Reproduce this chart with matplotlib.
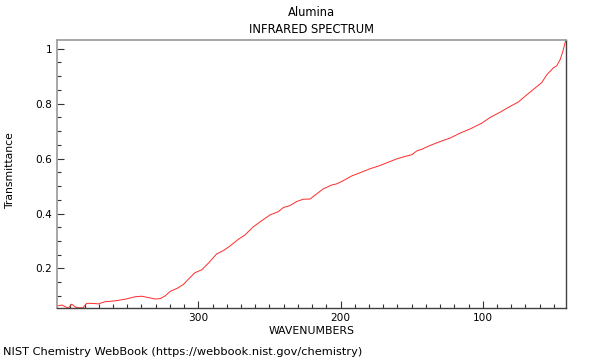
import matplotlib
matplotlib.use('Agg')
import matplotlib.pyplot as plt
from matplotlib.ticker import MultipleLocator

# spectrum (wavenumber, transmittance)
wavenumbers = [399.4, 396.1, 393.7, 391.4, 389.0, 386.7, 384.6, 381.1, 378.5, 375.0,
               370.3, 365.6, 358.6, 351.5, 344.5, 339.8, 335.2, 330.5, 326.9, 323.4,
               319.9, 314.1, 310.5, 307.0, 302.3, 297.6, 293.0, 287.1, 282.4, 277.7,
               271.9, 267.2, 261.3, 255.4, 249.6, 243.7, 240.2, 235.5, 230.8, 226.2,
               221.4, 216.7, 212.1, 206.2, 202.7, 198.0, 192.1, 185.1, 179.3, 172.2,
               166.4, 160.5, 154.6, 149.9, 146.4, 142.9, 137.0, 130.0, 122.9, 115.9,
               108.9, 100.7, 94.8, 87.8, 80.8, 75.0, 69.1, 63.2, 58.5, 55.0,
               50.4, 48.0, 45.6, 43.7, 41.6]
transmittance = [0.063, 0.067, 0.061, 0.056, 0.070, 0.060, 0.057, 0.057, 0.073, 0.073,
                 0.071, 0.079, 0.082, 0.088, 0.097, 0.099, 0.094, 0.089, 0.090, 0.100,
                 0.116, 0.130, 0.142, 0.161, 0.185, 0.195, 0.219, 0.253, 0.265, 0.282,
                 0.306, 0.322, 0.352, 0.374, 0.395, 0.407, 0.422, 0.429, 0.444, 0.452,
                 0.453, 0.472, 0.490, 0.504, 0.508, 0.520, 0.537, 0.551, 0.563, 0.575,
                 0.587, 0.599, 0.608, 0.614, 0.628, 0.634, 0.648, 0.662, 0.675, 0.693,
                 0.708, 0.729, 0.750, 0.769, 0.790, 0.806, 0.832, 0.857, 0.877, 0.905,
                 0.930, 0.938, 0.960, 0.990, 1.032]

fig = plt.figure(figsize=(6, 3.6), dpi=100)
ax = fig.add_axes([0.095, 0.1444, 0.848, 0.7446])
ax.plot(wavenumbers, transmittance, color='#ff2a2a', lw=0.7)

ax.set_xlim(max(wavenumbers), min(wavenumbers))
ax.set_ylim(min(transmittance), max(transmittance))

ax.xaxis.set_major_locator(MultipleLocator(100))
ax.xaxis.set_minor_locator(MultipleLocator(10))
ax.yaxis.set_major_locator(MultipleLocator(0.2))
ax.yaxis.set_minor_locator(MultipleLocator(0.05))
ax.yaxis.set_major_formatter(plt.FuncFormatter(lambda v, p: f'{v:g}'))
ax.tick_params(which='both', direction='in', labelsize=7.6, colors='#333333',
               labelcolor='black', top=False, right=False)
ax.tick_params(which='major', length=5, width=0.8)
ax.tick_params(which='minor', length=3, width=0.8)

# top/left frame drawn in light gray, bottom/right darker
for side in ('top', 'left'):
    ax.spines[side].set_color('#a0a0a0')
    ax.spines[side].set_linewidth(1.3)
for side in ('bottom', 'right'):
    ax.spines[side].set_color('#404040')
    ax.spines[side].set_linewidth(1.0)

fig.text(0.519, 0.964, 'Alumina', ha='center', va='center', fontsize=8.3)
fig.text(0.519, 0.918, 'INFRARED SPECTRUM', ha='center', va='center', fontsize=8.3)
fig.text(0.519, 0.081, 'WAVENUMBERS', ha='center', va='center', fontsize=7.8)
fig.text(0.017, 0.525, 'Transmittance', ha='center', va='center', rotation=90, fontsize=7.8)
fig.text(0.005, 0.022, 'NIST Chemistry WebBook (https://webbook.nist.gov/chemistry)',
         ha='left', va='center', fontsize=8.2)

fig.savefig('out.png', dpi=100)
